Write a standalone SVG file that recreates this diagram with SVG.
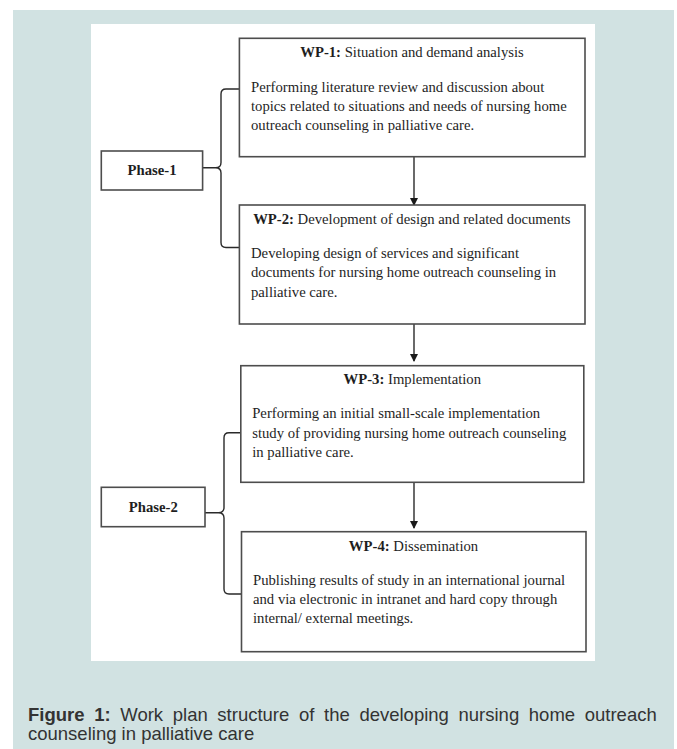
<svg xmlns="http://www.w3.org/2000/svg" width="677" height="749" viewBox="0 0 677 749">
<defs>
<marker id="ah" markerWidth="8" markerHeight="8" refX="7" refY="4" orient="auto" markerUnits="userSpaceOnUse">
<path d="M0,0 L8,4 L0,8 Z" fill="#1a1a1a"/>
</marker>
<style>
.box{fill:#fff;stroke:#4d4d4d;stroke-width:1.6}
.t{font-family:"Liberation Serif","Times New Roman",serif;font-size:14.7px;fill:#1e1e1e}
.b{font-weight:bold}
.ttl{text-anchor:middle}
.con{fill:none;stroke:#2a2a2a;stroke-width:1.4}
.cap{font-family:"Liberation Sans",Arial,sans-serif;font-size:18.5px;fill:#333}
</style>
</defs>
<rect x="0" y="0" width="677" height="749" fill="#ffffff"/>
<rect x="13" y="10" width="661" height="739" fill="#d1e2e2"/>
<rect x="91" y="24" width="504" height="637" fill="#ffffff"/>

<g id="connectors">
<line class="con" x1="414" y1="157" x2="414" y2="205" marker-end="url(#ah)"/>
<line class="con" x1="414" y1="324" x2="414" y2="361" marker-end="url(#ah)"/>
<line class="con" x1="414" y1="482" x2="414" y2="528" marker-end="url(#ah)"/>
<path class="con" d="M239.4,89 H226 Q221,89 221,94 V162.5 Q221,167.8 215.5,167.8 H202.6 M215.5,167.8 Q221,167.8 221,173 V242.5 Q221,247.5 226,247.5 H239.4"/>
<path class="con" d="M240.8,432.7 H229 Q224,432.7 224,437.7 V507.4 Q224,512.7 218.5,512.7 H205 M218.5,512.7 Q224,512.7 224,518 V589 Q224,594 229,594 H241.5"/>
</g>

<g id="phase1">
<rect class="box" x="101.3" y="151" width="101.3" height="39"/>
<text class="t b" x="152" y="175" text-anchor="middle">Phase-1</text>
</g>
<g id="phase2">
<rect class="box" x="101.3" y="487.3" width="103.7" height="39.4"/>
<text class="t b" x="153.3" y="511.5" text-anchor="middle">Phase-2</text>
</g>

<g id="wp1">
<rect class="box" x="239.4" y="38.3" width="345.6" height="118.4"/>
<text class="t ttl" x="412" y="56.7"><tspan class="b">WP-1:</tspan> Situation and demand analysis</text>
<text class="t" x="251"><tspan x="251" y="91.7">Performing literature review and discussion about</tspan><tspan x="251" y="110.7">topics related to situations and needs of nursing home</tspan><tspan x="251" y="130">outreach counseling in palliative care.</tspan></text>
</g>

<g id="wp2">
<rect class="box" x="239.4" y="205" width="345.6" height="119"/>
<text class="t ttl" x="411.8" y="224"><tspan class="b">WP-2:</tspan> Development of design and related documents</text>
<text class="t" x="251"><tspan x="251" y="258.3">Developing design of services and significant</tspan><tspan x="251" y="277.3">documents for nursing home outreach counseling in</tspan><tspan x="251" y="296.7">palliative care.</tspan></text>
</g>

<g id="wp3">
<rect class="box" x="240.8" y="365.7" width="343" height="116.6"/>
<text class="t ttl" x="412.3" y="384.3"><tspan class="b">WP-3:</tspan> Implementation</text>
<text class="t" x="252.2"><tspan x="252.2" y="418.3">Performing an initial small-scale implementation</tspan><tspan x="252.2" y="437.7">study of providing nursing home outreach counseling</tspan><tspan x="252.2" y="456.7">in palliative care.</tspan></text>
</g>

<g id="wp4">
<rect class="box" x="241.5" y="531.7" width="344.5" height="120"/>
<text class="t ttl" x="413.5" y="550.7"><tspan class="b">WP-4:</tspan> Dissemination</text>
<text class="t" x="253"><tspan x="253" y="585">Publishing results of study in an international journal</tspan><tspan x="253" y="604">and via electronic in intranet and hard copy through</tspan><tspan x="253" y="623.3">internal/ external meetings.</tspan></text>
</g>

<g id="caption">
<text class="cap" x="28" y="721" word-spacing="4.5"><tspan font-weight="bold">Figure 1:</tspan> Work plan structure of the developing nursing home outreach</text>
<text class="cap" x="28" y="740">counseling in palliative care</text>
</g>
</svg>
